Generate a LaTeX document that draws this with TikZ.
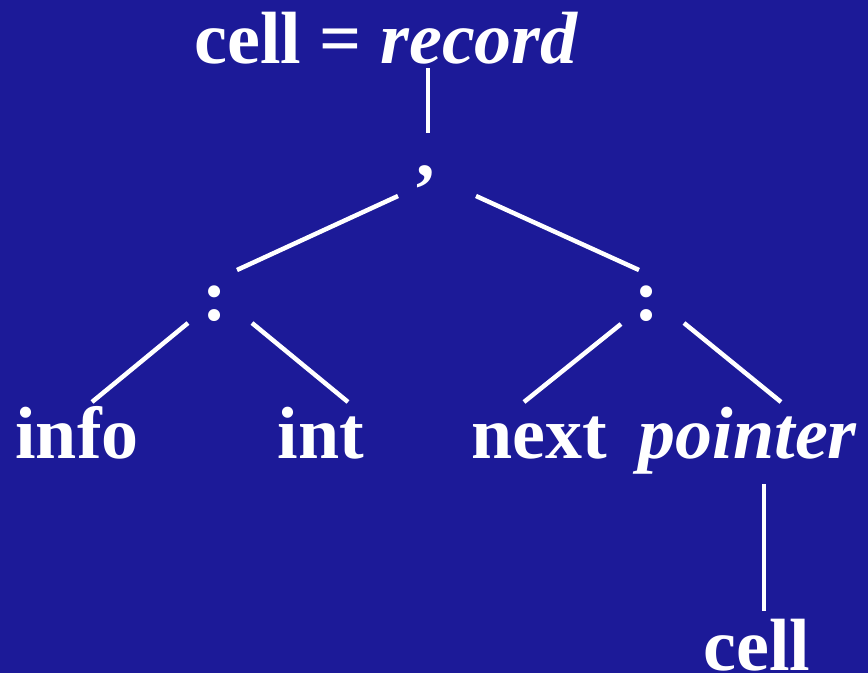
\documentclass[tikz,border=0pt]{standalone}
\usepackage{fontspec}
\setmainfont{Liberation Serif}
\usetikzlibrary{calc}
\definecolor{bgblue}{RGB}{28,26,152}
\begin{document}
\begin{tikzpicture}[x=1pt,y=-1pt,
  lbl/.style={text=white,inner sep=0pt,anchor=base,font=\fontsize{74}{80}\selectfont\bfseries},
  edge/.style={draw=white,line width=4.5pt}]
\fill[bgblue] (0,0) rectangle (868,673);
\useasboundingbox (0,0) rectangle (868,673);
% nodes
\node[lbl] (top) at (386.5,63) {cell = \textit{record}};
\node[lbl] (comma) at (426,176) {,};
\node[lbl] (colL) at (215,320) {:};
\node[lbl] (colR) at (647,320) {:};
\node[lbl] (info) at (77,458) {info};
\node[lbl] (int) at (321,458) {int};
\node[lbl] (next) at (539,458) {next};
\node[lbl] (pointer) at (748,458) {\textit{pointer}};
\node[lbl] (cell) at (757,670) {cell};
% connectors
\draw[edge] ($(top.base)+(41.5,5)$) -- ($(comma.base)+(2,-43)$);
\draw[edge] ($(comma.base)+(-28,20)$) -- ($(colL.base)+(22,-50)$);
\draw[edge] ($(comma.base)+(50,20)$) -- ($(colR.base)+(-8,-50)$);
\draw[edge] ($(colL.base)+(-27,3)$) -- ($(info.base)+(15,-56)$);
\draw[edge] ($(colL.base)+(37,3)$) -- ($(int.base)+(27,-56)$);
\draw[edge] ($(colR.base)+(-26,4)$) -- ($(next.base)+(-15,-56)$);
\draw[edge] ($(colR.base)+(37,3)$) -- ($(pointer.base)+(33,-56)$);
\draw[edge] ($(pointer.base)+(16,26)$) -- ($(cell.base)+(7,-59)$);
\end{tikzpicture}
\end{document}
